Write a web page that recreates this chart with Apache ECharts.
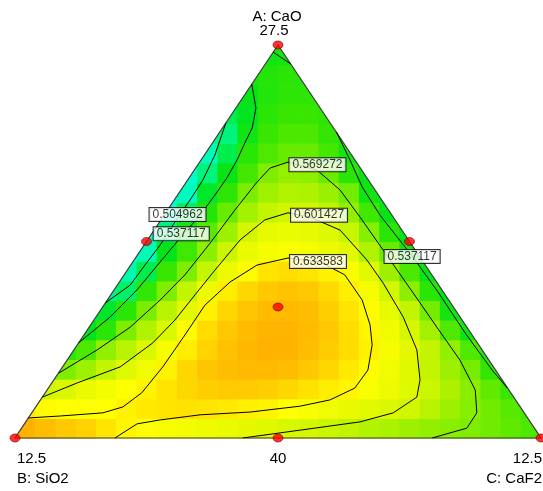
<!DOCTYPE html>
<html><head><meta charset="utf-8">
<script src="https://cdn.jsdelivr.net/npm/echarts/dist/echarts.min.js"></script>
<style>html,body{margin:0;padding:0;background:#fff}#c{width:543px;height:491px}</style>
</head><body><div id="c"></div>
<script>
// ---- data ----
const components = ['A: CaO', 'B: SiO2', 'C: CaF2'];
const vertexLabels = ['27.5', '12.5', '12.5'];
const edgeLabels = ['25', '25', '40']; // A-B edge, A-C edge, B-C edge
const levels = [0.504962, 0.537117, 0.569272, 0.601427, 0.633583];
// design points (pseudo fractions CaO, SiO2, CaF2)
const designPoints = [[1,0,0],[0,1,0],[0,0,1],[0.5,0.5,0],[0.5,0,0.5],[0,0.5,0.5],[1/3,1/3,1/3]];
// response grid (rows from base upward, 26 columns across), row start column
const gridCols = 26, gridRows = 20;
const heatRowStart = [0,0,1,1,2,3,3,4,5,5,6,7,7,8,9,9,10,11,11,12];
const heatRows = [
 [0.665,0.66,0.655,0.65,0.642,0.634,0.628,0.624,0.62,0.616,0.612,0.608,0.605,0.602,0.6,0.595,0.59,0.586,0.582,0.578,0.574,0.571,0.568,0.564,0.56,0.556],
 [0.64,0.632,0.63,0.628,0.63,0.636,0.64,0.642,0.643,0.642,0.64,0.637,0.635,0.63,0.624,0.617,0.611,0.607,0.603,0.598,0.588,0.578,0.57,0.564,0.558,0.553],
 [0.598,0.603,0.612,0.62,0.628,0.635,0.642,0.648,0.652,0.654,0.654,0.652,0.648,0.643,0.638,0.634,0.625,0.615,0.605,0.595,0.583,0.571,0.56,0.55],
 [0.56,0.568,0.578,0.592,0.605,0.618,0.636,0.648,0.656,0.66,0.662,0.662,0.66,0.655,0.648,0.64,0.632,0.618,0.606,0.592,0.578,0.566,0.548,0.54],
 [0.545,0.555,0.574,0.588,0.604,0.622,0.638,0.65,0.658,0.663,0.665,0.664,0.66,0.653,0.645,0.636,0.622,0.608,0.592,0.574,0.556,0.54],
 [0.53,0.545,0.568,0.585,0.603,0.632,0.646,0.655,0.661,0.664,0.664,0.661,0.655,0.645,0.634,0.618,0.601,0.58,0.556,0.535],
 [0.51,0.525,0.545,0.567,0.588,0.607,0.636,0.648,0.656,0.661,0.662,0.66,0.652,0.642,0.632,0.61,0.592,0.566,0.537,0.53],
 [0.5,0.508,0.547,0.568,0.592,0.615,0.638,0.648,0.655,0.657,0.655,0.647,0.637,0.622,0.6,0.572,0.545,0.53],
 [0.49,0.515,0.55,0.568,0.593,0.615,0.632,0.642,0.645,0.642,0.636,0.624,0.606,0.578,0.555,0.532],
 [0.48,0.488,0.53,0.552,0.572,0.596,0.612,0.622,0.625,0.622,0.615,0.606,0.585,0.563,0.536,0.528],
 [0.48,0.505,0.538,0.558,0.578,0.6,0.61,0.613,0.61,0.605,0.594,0.57,0.545,0.53],
 [0.478,0.51,0.543,0.562,0.58,0.592,0.598,0.598,0.59,0.574,0.552,0.532],
 [0.48,0.485,0.525,0.546,0.567,0.579,0.585,0.584,0.577,0.565,0.535,0.53],
 [0.48,0.503,0.533,0.553,0.568,0.575,0.573,0.563,0.545,0.532],
 [0.488,0.515,0.545,0.556,0.562,0.562,0.553,0.537],
 [0.5,0.503,0.535,0.55,0.555,0.555,0.548,0.54],
 [0.515,0.528,0.545,0.55,0.55,0.546],
 [0.532,0.542,0.546,0.546,0.544],
 [0.54,0.543,0.545,0.543],
 [0.535,0.538]
];
// contour polylines in plot percent coordinates [x%, y%]
const contour1 = [[40.1,80.2],[38.0,72.0],[35.7,65.6],[33.3,60.6],[30.4,55.0],[27.6,49.1],[24.7,44.0],[21.9,38.9],[17.2,34.4]];
const contour2a = [[12.1,24.2],[18.1,30.8],[23.2,37.7],[27.6,44.8],[31.4,50.9],[35.2,56.7],[38.0,61.8],[40.3,66.2],[42.2,70.7],[43.7,75.1],[45.1,78.9],[45.8,84.0],[45.0,90.1]];
const contour2b = [[49.1,98.2],[50.4,97.0],[52.4,95.2]];
const contour2c = [[61.1,77.9],[63.7,70.7],[66.0,63.9],[69.4,56.7],[72.8,50.9],[75.5,46.3],[80.4,37.2],[85.7,26.5],[90.7,17.3],[93.6,12.7]];
const contour3 = [[8.3,16.5],[15.6,22.4],[21.9,28.2],[27.6,35.1],[32.3,41.5],[37.1,49.6],[41.8,58.0],[46.0,65.1],[48.5,68.7],[51.9,70.2],[57.4,68.2],[61.8,63.1],[65.6,56.2],[70.0,47.8],[75.7,36.9],[80.2,28.2],[84.6,19.8],[87.5,12.2],[87.8,6.4],[85.9,2.5],[82.7,1.3],[79.3,0]];
const contour4 = [[5.2,10.4],[11.8,14.0],[20.0,18.1],[26.2,24.2],[30.4,30.0],[34.2,36.4],[38.0,42.7],[42.8,50.4],[47.5,55.5],[51.9,57.3],[56.1,56.2],[61.8,52.9],[66.9,45.3],[70.0,39.4],[73.8,30.8],[76.4,22.4],[77.0,14.8],[76.4,10.4],[71.9,6.4],[65.6,4.1],[54.2,2.0],[43.3,0]];
const contour5 = [[2.5,5.1],[8.6,5.6],[16.7,6.4],[20.5,7.9],[24.1,11.5],[28.1,18.1],[32.3,26.2],[36.1,33.8],[40.9,39.7],[46.0,44.0],[51.9,45.8],[58.0,44.8],[62.7,41.5],[66.0,35.1],[67.5,28.8],[67.9,23.7],[67.1,17.3],[64.6,12.7],[59.9,9.7],[54.2,8.1],[44.7,6.6],[35.2,5.9],[27.6,4.6],[23.2,3.6],[19.0,0]];
// contour label anchors: [x%, y%, level index]
const contourLabels = [[30.9,56.9,0],[31.6,52.0,1],[57.5,69.5,2],[57.8,56.7,3],[57.6,44.9,4],[75.5,46.2,1]];

// ---- build ----
const tern = p => [100 * (p[2] + p[0] / 2), 100 * p[0]];
const heatData = [];
heatRows.forEach((row, j) => row.forEach((v, k) => heatData.push([heatRowStart[j] + k, j, v])));

const chart = echarts.init(document.getElementById('c'), null, {renderer: 'canvas'});
const font = '"Liberation Sans", Arial, sans-serif';
const contourSeries = [contour1, contour2a, contour2b, contour2c, contour3, contour4, contour5].map(d => ({
  type: 'line', data: d, symbol: 'none', showSymbol: false, silent: true, z: 5,
  lineStyle: {color: '#000', width: 1}
}));

chart.setOption({
  animation: false,
  grid: {left: 15, top: 45, width: 526, height: 393},
  xAxis: {type: 'value', min: 0, max: 100, show: false},
  yAxis: {type: 'value', min: 0, max: 100, show: false},
  visualMap: {type: 'continuous', show: false, seriesIndex: 0, dimension: 2, min: 0.47, max: 0.67,
    inRange: {color: ['#00ffe8','#00fab0','#00f060','#00e418','#38e600','#86ee00','#c0f400','#e8fa00','#ffff00','#ffd200','#ffa800']}},
  graphic: [
    {type: 'text', x: 277, y: 17, z: 1, style: {text: components[0], font: '15px ' + font, fill: '#000', textAlign: 'center', textVerticalAlign: 'middle'}},
    {type: 'text', x: 274, y: 31, z: 1, style: {text: vertexLabels[0], font: '15px ' + font, fill: '#000', textAlign: 'center', textVerticalAlign: 'middle'}},
    {type: 'text', x: 125, y: 252, z: 1, style: {text: edgeLabels[0], font: '15px ' + font, fill: '#000', textAlign: 'center', textVerticalAlign: 'middle'}},
    {type: 'text', x: 432, y: 251, z: 1, style: {text: edgeLabels[1], font: '15px ' + font, fill: '#000', textAlign: 'center', textVerticalAlign: 'middle'}},
    {type: 'text', x: 17, y: 459, z: 1, style: {text: vertexLabels[1], font: '15px ' + font, fill: '#000', textAlign: 'left', textVerticalAlign: 'middle'}},
    {type: 'text', x: 17, y: 479, z: 1, style: {text: components[1], font: '15px ' + font, fill: '#000', textAlign: 'left', textVerticalAlign: 'middle'}},
    {type: 'text', x: 278, y: 459, z: 1, style: {text: edgeLabels[2], font: '15px ' + font, fill: '#000', textAlign: 'center', textVerticalAlign: 'middle'}},
    {type: 'text', x: 542, y: 459, z: 1, style: {text: vertexLabels[2], font: '15px ' + font, fill: '#000', textAlign: 'right', textVerticalAlign: 'middle'}},
    {type: 'text', x: 542, y: 479, z: 1, style: {text: components[2], font: '15px ' + font, fill: '#000', textAlign: 'right', textVerticalAlign: 'middle'}}
  ],
  series: [
    {
      type: 'custom', data: heatData, silent: true, z: 2,
      renderItem: (params, api) => {
        const i = api.value(0), j = api.value(1);
        const p0 = api.coord([i * 100 / gridCols, j * 100 / gridRows]);
        const p1 = api.coord([(i + 1) * 100 / gridCols, (j + 1) * 100 / gridRows]);
        return {type: 'rect', shape: {x: p0[0], y: p1[1], width: p1[0] - p0[0] + 0.6, height: p0[1] - p1[1] + 0.6},
          style: {fill: api.visual('color')}};
      }
    },
    {
      type: 'custom', data: [[0, 0]], silent: true, z: 3,
      renderItem: (params, api) => {
        const c = p => api.coord(p);
        return {type: 'group', children: [
          {type: 'polygon', shape: {points: [c([-1, -1]), c([0, 0]), c([50, 100]), c([-1, 101])]}, style: {fill: '#fff'}},
          {type: 'polygon', shape: {points: [c([101, -1]), c([100, 0]), c([50, 100]), c([101, 101])]}, style: {fill: '#fff'}},
          {type: 'polygon', shape: {points: [c([0, 0]), c([100, 0]), c([50, 100])]}, style: {fill: 'none', stroke: '#3a3a3a', lineWidth: 1.2}}
        ]};
      }
    },
    ...contourSeries,
    {
      type: 'scatter', z: 7, symbolSize: 1, silent: true,
      itemStyle: {color: 'rgba(0,0,0,0)'},
      data: contourLabels.map(l => ({value: [l[0], l[1]], name: levels[l[2]].toFixed(6)})),
      label: {show: true, position: 'inside', formatter: p => p.name, fontFamily: font, fontSize: 12, color: '#000',
        backgroundColor: '#fff', borderColor: '#000', borderWidth: 1, padding: [1, 3, 0, 3], lineHeight: 12}
    },
    {
      type: 'scatter', z: 8, silent: true, symbol: 'circle', symbolSize: [10, 8],
      itemStyle: {color: '#ff0000', borderColor: '#7a0000', borderWidth: 0.8},
      data: designPoints.map(tern)
    }
  ]
});
</script></body></html>
